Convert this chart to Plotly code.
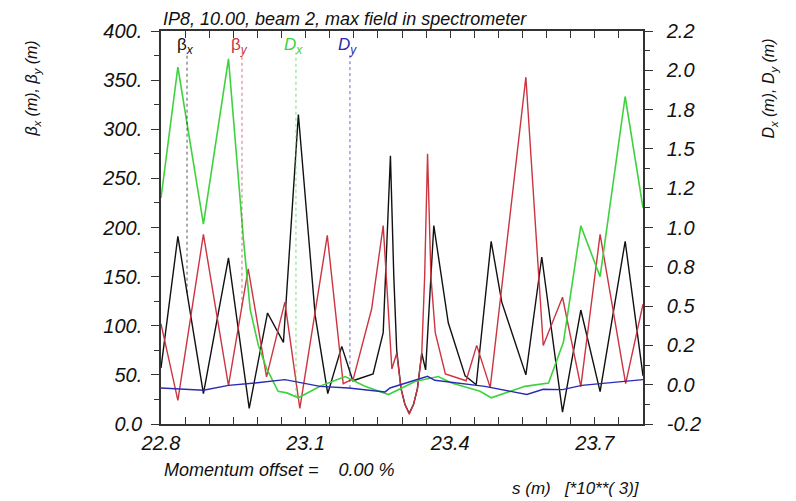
import numpy as np
import plotly.graph_objects as go

# ---- data (s in units of 10^3 m) ----
s_betx = [22.800, 22.835, 22.888, 22.940, 22.983, 23.021, 23.054, 23.085, 23.120, 23.146,
          23.175, 23.198, 23.240, 23.261, 23.276, 23.283, 23.289, 23.298, 23.306, 23.315,
          23.324, 23.332, 23.341, 23.349, 23.366, 23.396, 23.431, 23.454, 23.485, 23.507,
          23.557, 23.590, 23.633, 23.671, 23.711, 23.763, 23.800]
betx = [57, 191, 31, 169, 16, 113, 83, 315, 110, 31,
        79, 44, 51, 93, 273, 150, 75, 36, 20, 11,
        20, 36, 72, 55, 202, 103, 49, 40, 186, 124,
        50, 170, 12, 116, 33, 186, 49]

s_bety = [22.800, 22.835, 22.888, 22.940, 22.981, 23.019, 23.057, 23.088, 23.145, 23.178,
          23.199, 23.237, 23.261, 23.279, 23.289, 23.298, 23.306, 23.315, 23.324, 23.332,
          23.341, 23.347, 23.353, 23.360, 23.369, 23.390, 23.433, 23.455, 23.483, 23.557,
          23.593, 23.633, 23.671, 23.711, 23.764, 23.800]
bety = [102, 24, 193, 39, 158, 48, 124, 16, 192, 41,
        46, 117, 202, 56, 72, 36, 20, 10, 20, 36,
        72, 150, 275, 150, 93, 51, 44, 80, 37, 353,
        80, 129, 38, 193, 41, 122]

s_dx = [22.800, 22.835, 22.888, 22.940, 22.971, 22.985, 23.002, 23.019, 23.043, 23.061,
        23.085, 23.130, 23.182, 23.223, 23.272, 23.327, 23.375, 23.403, 23.462, 23.485,
        23.555, 23.604, 23.635, 23.671, 23.711, 23.763, 23.800]
dx = [1.18, 1.98, 1.02, 2.03, 0.93, 0.50, 0.28, 0.14, 0.00, -0.01,
      -0.04, 0.03, 0.09, 0.03, -0.02, 0.06, 0.09, 0.05, 0.00, -0.04,
      0.03, 0.05, 0.30, 1.01, 0.70, 1.80, 1.12]

s_dy = [22.800, 22.888, 22.940, 22.995, 23.057, 23.130, 23.189, 23.265, 23.275, 23.353,
        23.368, 23.472, 23.559, 23.593, 23.633, 23.673, 23.800]
dy = [0.020, 0.006, 0.036, 0.050, 0.071, 0.030, 0.020, -0.004, 0.020, 0.091,
      0.067, 0.030, -0.020, 0.012, 0.010, 0.036, 0.071]

x_tickvals = [22.8, 23.1, 23.4, 23.7]
x_ticktext = ["22.8", "23.1", "23.4", "23.7"]
y_tickvals = [0, 50, 100, 150, 200, 250, 300, 350, 400]
y_ticktext = ["0.0", "50.", "100.", "150.", "200.", "250.", "300.", "350.", "400."]
y2_ticktext = ["-0.2", "0.0", "0.2", "0.5", "0.8", "1.0", "1.2", "1.5", "1.8", "2.0", "2.2"]
y2_tickvals = [-0.2 + 0.24 * k for k in range(len(y2_ticktext))]

label_s = [22.854, 22.968, 23.080, 23.192]
label_text = ["β<sub><i>x</i></sub>", "β<sub><i>y</i></sub>", "<i>D</i><sub><i>x</i></sub>", "<i>D</i><sub><i>y</i></sub>"]

BLACK = "#111111"
RED = "#cc3440"
GREEN = "#3ed23e"
BLUE = "#2a2ab4"
AX = "#333333"
FONT = "Liberation Sans, Arial, sans-serif"

fig = go.Figure()
fig.add_trace(go.Scatter(x=s_betx, y=betx, mode="lines", line=dict(color=BLACK, width=1.4), yaxis="y"))
fig.add_trace(go.Scatter(x=s_bety, y=bety, mode="lines", line=dict(color=RED, width=1.4), yaxis="y"))
fig.add_trace(go.Scatter(x=s_dx, y=dx, mode="lines", line=dict(color=GREEN, width=1.6), yaxis="y2"))
fig.add_trace(go.Scatter(x=s_dy, y=dy, mode="lines", line=dict(color=BLUE, width=1.4), yaxis="y2"))

# dotted label lines: from the curve value up to just below the label
def d_to_left(d):
    return (d + 0.2) * 400 / 2.4

curve_vals = [
    float(np.interp(label_s[0], s_betx, betx)),
    float(np.interp(label_s[1], s_bety, bety)),
    d_to_left(float(np.interp(label_s[2], s_dx, dx))),
    d_to_left(float(np.interp(label_s[3], s_dy, dy))),
]
colors = [BLACK, RED, GREEN, BLUE]
shapes = []
annotations = []
for s, v, c, t in zip(label_s, curve_vals, colors, label_text):
    shapes.append(dict(type="line", xref="x", yref="y", x0=s, x1=s, y0=v, y1=378,
                       opacity=0.7, line=dict(color=c, width=1, dash="dot")))
    annotations.append(dict(x=s, y=0.962, xref="x", yref="paper", text=t, showarrow=False,
                            xanchor="center", yanchor="middle", xshift=-2,
                            font=dict(family=FONT, size=17, color=c)))

annotations += [
    dict(x=0.0, y=1.0, xref="paper", yref="paper", xanchor="left", yanchor="bottom", yshift=0,
         text="IP8, 10.00, beam 2, max field in spectrometer", showarrow=False,
         font=dict(family=FONT, size=18, color="#111111", style="italic")),
    dict(x=-0.2656, y=0.8535, xref="paper", yref="paper", textangle=-90,
         text="β<sub>x</sub> (m), β<sub>y</sub> (m)", showarrow=False,
         xanchor="center", yanchor="middle",
         font=dict(family=FONT, size=16, color="#111111", style="italic")),
    dict(x=1.2635, y=0.8535, xref="paper", yref="paper", textangle=-90,
         text="D<sub>x</sub> (m), D<sub>y</sub> (m)", showarrow=False,
         xanchor="center", yanchor="middle",
         font=dict(family=FONT, size=16, color="#111111", style="italic")),
    dict(x=0.002, y=-0.116, xref="paper", yref="paper", xanchor="left", yanchor="middle",
         text="Momentum offset =    0.00 %", showarrow=False,
         font=dict(family=FONT, size=18, color="#111111", style="italic")),
    dict(x=0.998, y=-0.163, xref="paper", yref="paper", xanchor="right", yanchor="middle",
         text="s (m)   [*10**( 3)]", showarrow=False,
         font=dict(family=FONT, size=17, color="#111111", style="italic")),
]

tickfont = dict(family=FONT, size=20, color="#111111", style="italic")

fig.update_layout(
    width=788, height=493, autosize=False,
    margin=dict(l=153, r=153, t=20, b=77, pad=0),
    paper_bgcolor="white", plot_bgcolor="white",
    showlegend=False,
    shapes=shapes,
    annotations=annotations,
    xaxis=dict(range=[22.8, 23.8], tickmode="array", tickvals=x_tickvals, ticktext=x_ticktext,
               ticks="inside", ticklen=7, tickwidth=1.2, tickcolor=AX,
               minor=dict(tickmode="linear", tick0=22.8, dtick=0.05, ticks="inside",
                          ticklen=7, tickwidth=1.2, tickcolor=AX, showgrid=False),
               showline=True, linecolor=AX, linewidth=1.5, mirror="allticks",
               showgrid=False, zeroline=False, tickfont=tickfont),
    yaxis=dict(range=[0, 400], tickmode="array", tickvals=y_tickvals, ticktext=y_ticktext,
               ticks="outside", ticklen=8, tickwidth=1.2, tickcolor=AX, ticklabelstandoff=5,
               minor=dict(tickmode="array", tickvals=[25 + 50 * k for k in range(8)],
                          ticks="outside", ticklen=5, tickwidth=1.2, tickcolor=AX, showgrid=False),
               showline=True, linecolor=AX, linewidth=1.5,
               showgrid=False, zeroline=False, tickfont=tickfont),
    yaxis2=dict(range=[-0.2, 2.2], overlaying="y", side="right", anchor="x",
                tickmode="array", tickvals=y2_tickvals, ticktext=y2_ticktext,
                ticks="outside", ticklen=8, tickwidth=1.2, tickcolor=AX, ticklabelstandoff=10,
                minor=dict(tickmode="array", tickvals=[-0.08 + 0.24 * k for k in range(10)],
                           ticks="outside", ticklen=5, tickwidth=1.2, tickcolor=AX, showgrid=False),
                showline=True, linecolor=AX, linewidth=1.5,
                showgrid=False, zeroline=False, tickfont=tickfont),
)

fig.write_html("out.html")
